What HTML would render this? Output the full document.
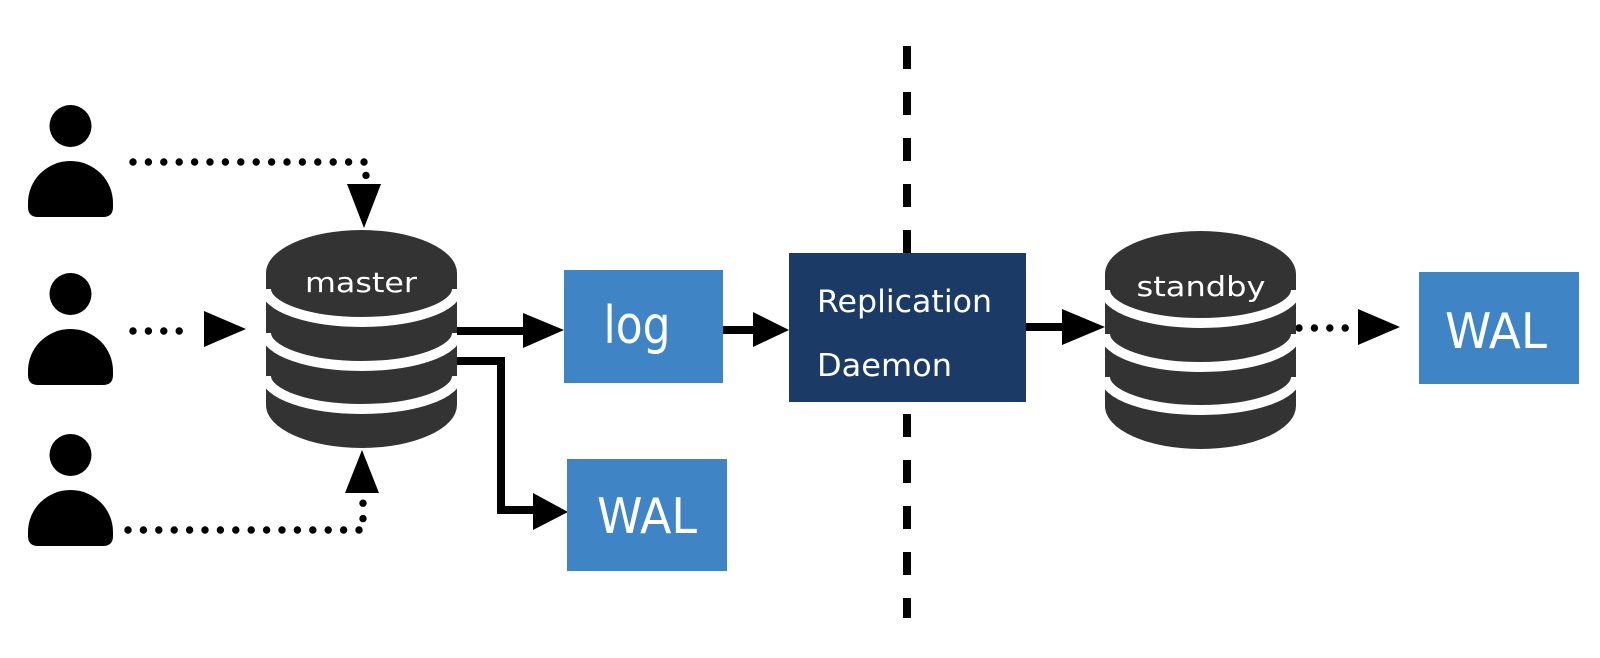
<!DOCTYPE html>
<html><head><meta charset="utf-8"><style>
html,body{margin:0;padding:0;background:#fff;}
svg{display:block;}
text{font-family:"DejaVu Sans","Liberation Sans",sans-serif;fill:#fff;}
</style></head><body>
<svg width="1600" height="658" viewBox="0 0 1600 658" xmlns="http://www.w3.org/2000/svg">
<defs>
<g id="person">
<circle cx="70.5" cy="126" r="21" fill="#000"/>
<path d="M28,207 L28,203 A42.5,42 0 0 1 113,203 L113,207 Q113,217 103,217 L38,217 Q28,217 28,207 Z" fill="#000"/>
</g>
<g id="cyl">
<path d="M0,43 L0,175 A95.5,43 0 0 0 191,175 L191,43 Z" fill="#333"/>
<ellipse cx="95.5" cy="43" rx="95.5" ry="43" fill="#333"/>
<path d="M0,59 A95.5,33 0 0 0 191,59" fill="none" stroke="#fff" stroke-width="10"/>
<path d="M0,103 A95.5,33 0 0 0 191,103" fill="none" stroke="#fff" stroke-width="10"/>
<path d="M0,146 A95.5,33 0 0 0 191,146" fill="none" stroke="#fff" stroke-width="10"/>
</g>
</defs>

<!-- dashed separator -->
<line x1="907" y1="46" x2="907" y2="618" stroke="#000" stroke-width="8" stroke-dasharray="23 23"/>

<!-- persons -->
<use href="#person"/>
<use href="#person" transform="translate(0,168)"/>
<use href="#person" transform="translate(0,329)"/>

<!-- dotted connectors -->
<g fill="none" stroke="#000" stroke-width="7.4" stroke-linecap="round" stroke-dasharray="0 15.4">
<path d="M133,162 H366 V180"/>
<path d="M133,331 H192"/>
<path d="M128,530 H363 V500"/>
<path d="M1299,328 H1350"/>
</g>
<polygon points="347,184 381,184 364,228" fill="#000"/>
<polygon points="204,311 204,347 246,329" fill="#000"/>
<polygon points="345,493 379,493 362,450" fill="#000"/>
<polygon points="1358,309 1358,345 1400,327" fill="#000"/>

<!-- cylinders -->
<g transform="translate(266,230)"><use href="#cyl"/></g>
<g transform="translate(1105,231)"><use href="#cyl"/></g>
<text x="361" y="292" font-size="28" text-anchor="middle" textLength="112" lengthAdjust="spacingAndGlyphs">master</text>
<text x="1201" y="296" font-size="28" text-anchor="middle" textLength="129" lengthAdjust="spacingAndGlyphs">standby</text>

<!-- solid connectors -->
<g fill="none" stroke="#000" stroke-width="8">
<path d="M457,331 H526"/>
<path d="M457,361 H501 V510 H536"/>
<path d="M723,330 H756"/>
<path d="M1026,327 H1064"/>
</g>
<polygon points="523,313 523,348 564,330" fill="#000"/>
<polygon points="533,493 533,530 568,512" fill="#000"/>
<polygon points="753,312 753,347 789,330" fill="#000"/>
<polygon points="1062,309 1062,345 1105,327" fill="#000"/>

<!-- boxes -->
<rect x="564" y="270" width="159" height="113" fill="#3f84c5"/>
<text x="637" y="343" font-size="52" text-anchor="middle" textLength="67" lengthAdjust="spacingAndGlyphs">log</text>

<rect x="567" y="459" width="160" height="112" fill="#3f84c5"/>
<text x="647" y="533" font-size="49" text-anchor="middle" textLength="100" lengthAdjust="spacingAndGlyphs">WAL</text>

<rect x="789" y="253" width="237" height="149" fill="#1b3a66"/>
<text x="817" y="312" font-size="31" textLength="175" lengthAdjust="spacingAndGlyphs">Replication</text>
<text x="817" y="376" font-size="31" textLength="135" lengthAdjust="spacingAndGlyphs">Daemon</text>

<rect x="1419" y="272" width="160" height="112" fill="#3f84c5"/>
<text x="1496" y="348" font-size="49" text-anchor="middle" textLength="102" lengthAdjust="spacingAndGlyphs">WAL</text>
</svg>
</body></html>
